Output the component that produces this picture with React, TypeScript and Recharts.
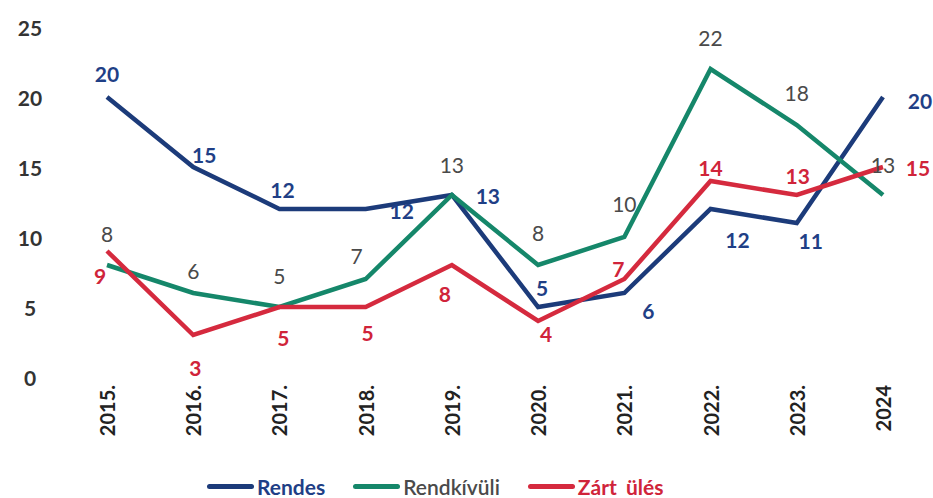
import { LineChart, Line, XAxis, YAxis, Legend } from "recharts";

const years = ["2015.", "2016.", "2017.", "2018.", "2019.", "2020.", "2021.", "2022.", "2023.", "2024"];
const rendes = [20, 15, 12, 12, 13, 5, 6, 12, 11, 20];
const rendkivuli = [8, 6, 5, 7, 13, 8, 10, 22, 18, 13];
const zartUles = [9, 3, 5, 5, 8, 4, 7, 14, 13, 15];
const yTicks = [0, 5, 10, 15, 20, 25];

// label nudges (dx, dy) from each point
const rendesNudge = [[0, -24], [11, -13], [3, -20], [36, 1], [36, 0], [4, -20], [24, 17], [27, 30], [14, 17], [37, 3]];
const rendkivuliNudge = [[0, -32], [0, -23], [0, -32], [-9, -24], [0, -31], [0, -33], [0, -34], [0, -32], [0, -33], [0, -31]];
const zartNudge = [[-7, 24], [2, 32], [4, 30], [2, 25], [-7, 28], [8, 12], [-6, -11], [0, -14], [1, -20], [35, 0]];

const FONT = "Lato, 'Open Sans', sans-serif";
const BLUE = "#1c3b7a";
const GREEN = "#15876a";
const RED = "#d52a3e";

const data = years.map((year, i) => ({
  year,
  rendes: rendes[i],
  rendkivuli: rendkivuli[i],
  zart: zartUles[i],
}));

const series = [
  { key: "rendes", name: "Rendes", color: BLUE, text: "#1f3f86", weight: 700, nudge: rendesNudge },
  { key: "rendkivuli", name: "Rendkívüli", color: GREEN, text: "#4a4a4a", weight: 400, nudge: rendkivuliNudge },
  { key: "zart", name: "Zárt ülés", color: RED, text: "#d0243a", weight: 700, nudge: zartNudge },
];

const makeLabel = (s: (typeof series)[number]) => (p: any) => {
  const [dx, dy] = s.nudge[p.index] || [0, -20];
  return (
    <text
      key={`${s.key}-${p.index}`}
      x={p.x + dx}
      y={p.y + dy}
      textAnchor="middle"
      dominantBaseline="central"
      fill={s.text}
      fontFamily={FONT}
      fontSize={21}
      fontWeight={s.weight}
    >
      {p.value}
    </text>
  );
};

const YTick = ({ x, y, payload }: any) => (
  <text x={x - 34} y={y} textAnchor="middle" dominantBaseline="central" fill="#333" fontFamily={FONT} fontSize={21} fontWeight={700}>
    {payload.value}
  </text>
);

const XTick = ({ x, y, payload }: any) => (
  <g transform={`translate(${x},${y + 8}) rotate(-90)`}>
    <text x={0} y={0} textAnchor="end" dominantBaseline="central" fill="#222" fontFamily={FONT} fontSize={20} fontWeight={700}>
      {payload.value}
    </text>
  </g>
);

const renderLegend = () => (
  <div style={{ display: "flex", alignItems: "center", height: 24, paddingLeft: 207, fontFamily: FONT, fontSize: 21 }}>
    {series.map((s) => (
      <div key={s.key} style={{ display: "flex", alignItems: "center", marginRight: 28 }}>
        <span style={{ display: "inline-block", width: 47, height: 5, borderRadius: 3, background: s.color, marginRight: 3 }} />
        <span style={{ color: s.text, fontWeight: s.weight === 700 ? 700 : 600, wordSpacing: 4 }}>{s.name}</span>
      </div>
    ))}
  </div>
);

export default function App() {
  return (
    <div style={{ position: "absolute", left: 0, top: 0, width: 933, height: 498, background: "#fff" }}>
      <LineChart width={933} height={498} data={data} margin={{ top: 27, right: 7, bottom: 0, left: 0 }}>
        <XAxis
          dataKey="year"
          axisLine={false}
          tickLine={false}
          tickSize={0}
          tickMargin={0}
          height={97}
          interval={0}
          padding={{ left: 43, right: 43 }}
          tick={<XTick />}
        />
        <YAxis domain={[0, 25]} ticks={yTicks} axisLine={false} tickLine={false} tickSize={0} tickMargin={0} width={64} tick={<YTick />} />
        <Legend verticalAlign="bottom" align="left" content={renderLegend} />
        {series.map((s) => (
          <Line
            key={s.key}
            dataKey={s.key}
            name={s.name}
            stroke={s.color}
            strokeWidth={4.5}
            dot={false}
            activeDot={false}
            isAnimationActive={false}
            label={makeLabel(s)}
          />
        ))}
      </LineChart>
    </div>
  );
}
